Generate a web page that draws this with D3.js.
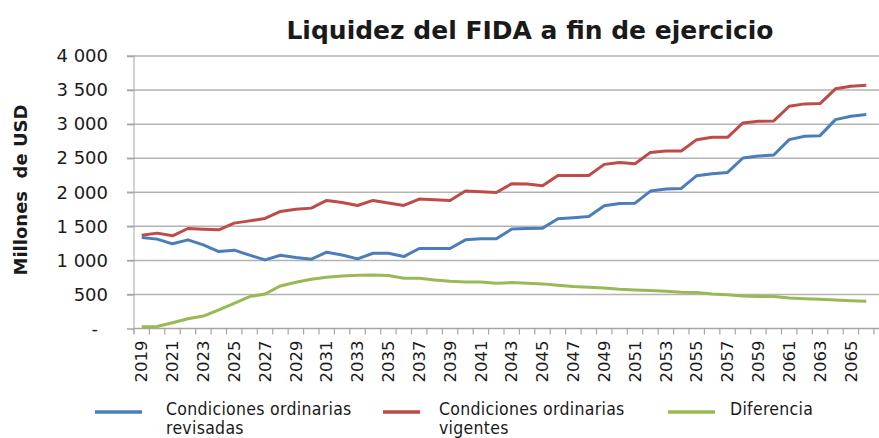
<!DOCTYPE html>
<html>
  <head>
    <meta charset="utf-8" />
    <title>Liquidez del FIDA</title>
    <style>
      body { margin: 0; background: #fff; }
      text { font-family: "DejaVu Sans", Verdana, sans-serif; fill: #1a1a1a; }
    </style>
    <script src="https://d3js.org/d3.v7.min.js"></script>
  </head>
  <body>
    <script>
      // years on the x axis
      var years = [2019, 2020, 2021, 2022, 2023, 2024, 2025, 2026, 2027, 2028, 2029, 2030,
                   2031, 2032, 2033, 2034, 2035, 2036, 2037, 2038, 2039, 2040, 2041, 2042,
                   2043, 2044, 2045, 2046, 2047, 2048, 2049, 2050, 2051, 2052, 2053, 2054,
                   2055, 2056, 2057, 2058, 2059, 2060, 2061, 2062, 2063, 2064, 2065, 2066];

      // Condiciones ordinarias revisadas (blue)
      var revisadas = [1335, 1312, 1243, 1301, 1228, 1130, 1150, 1076, 1007, 1076, 1041, 1017,
                       1120, 1080, 1022, 1105, 1105, 1056, 1174, 1174, 1174, 1301, 1316, 1316,
                       1459, 1468, 1473, 1610, 1625, 1644, 1801, 1835, 1840, 2017, 2047, 2056,
                       2243, 2272, 2291, 2503, 2532, 2547, 2772, 2821, 2831, 3066, 3115, 3140];

      // Condiciones ordinarias vigentes (red)
      var vigentes = [1370, 1400, 1360, 1468, 1458, 1448, 1547, 1580, 1615, 1718, 1752, 1767,
                      1880, 1850, 1806, 1880, 1841, 1806, 1900, 1890, 1880, 2018, 2007, 1997,
                      2125, 2120, 2096, 2247, 2247, 2247, 2409, 2438, 2419, 2585, 2606, 2606,
                      2772, 2806, 2806, 3017, 3041, 3047, 3262, 3297, 3301, 3518, 3556, 3571];

      // Diferencia (green)
      var diferencia = [26, 30, 85, 144, 183, 272, 370, 468, 507, 625, 679, 723,
                        753, 772, 782, 787, 777, 738, 738, 713, 694, 684, 684, 665,
                        674, 665, 655, 635, 615, 605, 596, 576, 566, 556, 547, 532,
                        527, 507, 497, 478, 468, 468, 449, 438, 429, 419, 409, 400];

      var yTicks = [0, 500, 1000, 1500, 2000, 2500, 3000, 3500, 4000];

      var series = [
        { name: ["Condiciones ordinarias", "revisadas"], values: revisadas, color: "#4a7ebb" },
        { name: ["Condiciones ordinarias", "vigentes"], values: vigentes, color: "#be4b48" },
        { name: ["Diferencia"], values: diferencia, color: "#98b954" }
      ];

      var width = 879, height = 438;
      var svg = d3.select("body").append("svg")
          .attr("width", width)
          .attr("height", height);

      var x = d3.scaleBand().domain(years).range([134, 874]);
      var y = d3.scaleLinear().domain([0, 4000]).range([328.5, 56]);

      // title
      svg.append("text")
          .attr("x", 530)
          .attr("y", 39)
          .attr("text-anchor", "middle")
          .style("font-size", "25px")
          .style("font-weight", "bold")
          .text("Liquidez del FIDA a fin de ejercicio");

      // gridlines
      svg.append("g").selectAll("line")
          .data(yTicks.slice(1))
          .enter().append("line")
          .attr("x1", 127).attr("x2", width)
          .attr("y1", function(d){ return y(d); })
          .attr("y2", function(d){ return y(d); })
          .attr("stroke", "#b3b3b3")
          .attr("stroke-width", 1.5);

      // y axis
      var yAxis = svg.append("g")
          .attr("transform", "translate(134,0)")
          .call(d3.axisLeft(y).tickValues(yTicks).tickSize(7).tickPadding(19)
            .tickFormat(function(d){ return d === 0 ? "-" : d3.format(",")(d).replace(",", " "); }));
      yAxis.select(".domain").attr("stroke", "#a6a6a6").attr("d", "M0,56V334");
      yAxis.selectAll(".tick line").attr("stroke", "#a6a6a6").attr("stroke-width", 1.5);
      yAxis.selectAll(".tick text")
          .style("font-size", "18px")
          .style("font-family", "'DejaVu Sans', Verdana, sans-serif")
          .attr("fill", "#1a1a1a")
          .attr("xml:space", "preserve")
          .attr("dx", function(d){ return d === 0 ? -10 : 0; });

      // x axis (Excel style: ticks between categories)
      var xAxis = svg.append("g")
          .attr("transform", "translate(0," + y(0) + ")")
          .call(d3.axisBottom(x).tickSize(0).tickFormat(function(d){ return d % 2 === 1 ? d : ""; }));
      xAxis.select(".domain").attr("stroke", "#a6a6a6").attr("stroke-width", 1.5)
          .attr("d", "M134,0H" + width);
      xAxis.selectAll(".tick text")
          .style("font-size", "16.5px")
          .style("font-family", "'DejaVu Sans', Verdana, sans-serif")
          .attr("fill", "#1a1a1a")
          .attr("text-anchor", "end")
          .attr("transform", "rotate(-90)")
          .attr("x", -12)
          .attr("y", 0)
          .attr("dy", "0.35em");

      svg.append("g").selectAll("line")
          .data(years.concat(["end"]))
          .enter().append("line")
          .attr("x1", function(d, i){ return 134 + i * x.step(); })
          .attr("x2", function(d, i){ return 134 + i * x.step(); })
          .attr("y1", y(0)).attr("y2", y(0) + 6)
          .attr("stroke", "#a6a6a6")
          .attr("stroke-width", 1.2);

      // y axis title
      svg.append("text")
          .attr("transform", "translate(27,190) rotate(-90)")
          .attr("text-anchor", "middle")
          .style("font-size", "18px")
          .style("font-weight", "bold")
          .attr("xml:space", "preserve")
          .text("Millones  de USD");

      // lines
      var line = d3.line()
          .x(function(d, i){ return x(years[i]) + x.bandwidth() / 2; })
          .y(function(d){ return y(d); });

      svg.append("g").selectAll("path")
          .data(series)
          .enter().append("path")
          .attr("d", function(d){ return line(d.values); })
          .attr("fill", "none")
          .attr("stroke", function(d){ return d.color; })
          .attr("stroke-width", 3)
          .attr("stroke-linejoin", "round");

      // legend
      var legendX = [95, 383, 668];
      var legend = svg.append("g").selectAll("g")
          .data(series)
          .enter().append("g")
          .attr("transform", function(d, i){ return "translate(" + legendX[i] + ",412)"; });

      legend.append("line")
          .attr("x1", 0).attr("x2", function(d, i){ return i === 1 ? 37 : 47; })
          .attr("y1", 0).attr("y2", 0)
          .attr("stroke", function(d){ return d.color; })
          .attr("stroke-width", 3.5);

      legend.append("text")
          .attr("x", function(d, i){ return i === 1 ? 56 : (i === 0 ? 71 : 62); })
          .attr("y", 3)
          .style("font-size", "17.5px")
          .style("letter-spacing", "0.3px")
          .style("font-family", "'DejaVu Sans Condensed', 'DejaVu Sans', sans-serif")
          .selectAll("tspan")
          .data(function(d){ return d.name; })
          .enter().append("tspan")
          .attr("x", function(d, i, nodes){
            return d3.select(nodes[i].parentNode).attr("x");
          })
          .attr("dy", function(d, i){ return i === 0 ? 0 : 18.5; })
          .text(function(d){ return d; });
    </script>
  </body>
</html>
